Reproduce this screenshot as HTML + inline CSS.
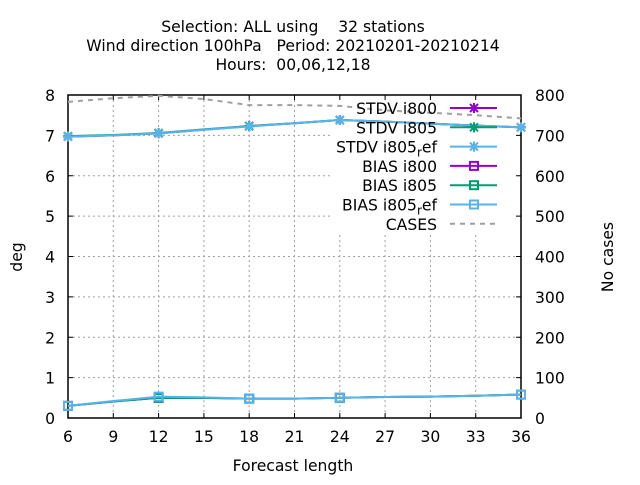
<!DOCTYPE html>
<html><head><meta charset="utf-8"><style>
body{margin:0;background:#fff}
svg{font-family:"DejaVu Sans","Liberation Sans",sans-serif}
</style></head><body>
<svg id="c" width="640" height="480">
<g font-size="15.6" text-anchor="middle">
<text x="293" y="32" xml:space="preserve">Selection: ALL using    32 stations</text>
<text x="293" y="51" xml:space="preserve">Wind direction 100hPa   Period: 20210201-20210214</text>
<text x="293" y="70" xml:space="preserve">Hours:  00,06,12,18</text>
</g>
<g id="grid"></g><g id="legbg"></g><g id="axes"></g><g id="series"></g><g id="legend"></g>
<text x="22" y="257" font-size="15.6" text-anchor="middle" transform="rotate(-90 22 257)">deg</text>
<text x="613" y="257" font-size="15.6" text-anchor="middle" transform="rotate(-90 613 257)">No cases</text>
<text x="293" y="471" font-size="15.6" text-anchor="middle">Forecast length</text>
</svg>
<script>
const hours=[6,9,12,15,18,21,24,27,30,33,36];
const stdvI800=[6.97,7.0,7.05,7.14,7.23,7.30,7.38,7.34,7.29,7.24,7.2];
const stdvI805=[6.98,7.01,7.06,7.15,7.23,7.30,7.38,7.34,7.29,7.24,7.2];
const stdvI805ref=[6.97,7.0,7.05,7.14,7.22,7.30,7.38,7.34,7.29,7.24,7.2];
const biasI800=[0.3,0.41,0.5,0.5,0.48,0.48,0.5,0.52,0.53,0.55,0.58];
const biasI805=[0.3,0.41,0.5,0.5,0.48,0.48,0.5,0.52,0.53,0.55,0.58];
const biasI805ref=[0.3,0.42,0.53,0.51,0.48,0.48,0.5,0.52,0.53,0.55,0.58];
const cases=[783,792,798,790,775,775,773,762,756,750,742];
const markerHours=[6,12,18,24,36];
const xTicks=[6,9,12,15,18,21,24,27,30,33,36];
const yTicks=[0,1,2,3,4,5,6,7,8];
const y2Ticks=[0,100,200,300,400,500,600,700,800];
const L=68,R=521,T=95,B=418;
const FS=15.6;
const X=h=>L+(h-6)/30*(R-L);
const Y=v=>B-v/8*(B-T);
const Y2=v=>B-v/800*(B-T);
const NS="http://www.w3.org/2000/svg";
function mk(p,t,a){const e=document.createElementNS(NS,t);for(const k in a)e.setAttribute(k,a[k]);p.appendChild(e);return e;}
const g=document.getElementById('grid'),ax=document.getElementById('axes'),s=document.getElementById('series'),lg=document.getElementById('legend'),lb=document.getElementById('legbg');
xTicks.forEach(t=>{const x=X(t);
let l=mk(g,'line',{x1:x,x2:x,y1:T,y2:B,stroke:'#a0a0a0','stroke-dasharray':'2,3'});

mk(ax,'line',{x1:x,x2:x,y1:B,y2:B-5,stroke:'#000'});mk(ax,'line',{x1:x,x2:x,y1:T,y2:T+5,stroke:'#000'});
let tx=mk(ax,'text',{x:x,y:B+24,'font-size':FS,'text-anchor':'middle'});tx.textContent=t;
});
yTicks.forEach(t=>{const y=Y(t);
let l=mk(g,'line',{x1:L,x2:R,y1:y,y2:y,stroke:'#a0a0a0','stroke-dasharray':'2,3'});

mk(ax,'line',{x1:L,x2:L+5,y1:y,y2:y,stroke:'#000'});
let tx=mk(ax,'text',{x:L-13,y:y+6,'font-size':FS,'text-anchor':'end'});tx.textContent=t;
});
y2Ticks.forEach(t=>{const y=Y2(t);
mk(ax,'line',{x1:R,x2:R-5,y1:y,y2:y,stroke:'#000'});
let tx=mk(ax,'text',{x:R+14,y:y+6,'font-size':FS,'text-anchor':'start'});tx.textContent=t;
});
mk(lb,'rect',{x:333,y:97,width:186,height:135,fill:'#fff'});
let fr=mk(ax,'rect',{x:L,y:T,width:R-L,height:B-T,fill:'none',stroke:'#000','stroke-width':1.5});

function star(p,x,y,c){mk(p,'path',{d:`M${x-4},${y-4}L${x+4},${y+4}M${x-4},${y+4}L${x+4},${y-4}M${x-5},${y}L${x+5},${y}M${x},${y-5}L${x},${y+5}`,stroke:c,'stroke-width':2});}
function sq(p,x,y,c){mk(p,'rect',{x:x-4,y:y-4,width:8,height:8,fill:'none',stroke:c,'stroke-width':2});}
const ser=[['stdv-i800',stdvI800,'#9400d3',star],['stdv-i805',stdvI805,'#009e73',star],['stdv-i805-ref',stdvI805ref,'#56b4e9',star],
['bias-i800',biasI800,'#9400d3',sq],['bias-i805',biasI805,'#009e73',sq],['bias-i805-ref',biasI805ref,'#56b4e9',sq]];
let cl=mk(s,'polyline',{points:cases.map((v,i)=>X(hours[i])+','+Y2(v)).join(' '),fill:'none',stroke:'#a0a0a0','stroke-width':2,'stroke-dasharray':'5,5'});

ser.forEach(([n,d,c,m])=>{const gg=mk(s,'g',{});
mk(gg,'polyline',{points:d.map((v,i)=>X(hours[i])+','+Y(v)).join(' '),fill:'none',stroke:c,'stroke-width':2});
hours.forEach((h,i)=>{if(markerHours.includes(h))m(gg,X(h),Y(d[i]),c);});});
const items=[['STDV i800','#9400d3',star,0],['STDV i805','#009e73',star,0],['STDV i805<tspan font-size="12" dy="4">r</tspan><tspan dy="-4">ef</tspan>','#56b4e9',star,0],
['BIAS i800','#9400d3',sq,0],['BIAS i805','#009e73',sq,0],['BIAS i805<tspan font-size="12" dy="4">r</tspan><tspan dy="-4">ef</tspan>','#56b4e9',sq,0],['CASES','#a0a0a0',null,1]];
items.forEach(([t,c,m,d],i)=>{const y=108+i*19.3;const gg=mk(lg,'g',{});

const tx=mk(gg,'text',{x:437,y:y+6,'font-size':FS,'text-anchor':'end'});tx.innerHTML=t;
const a={x1:450,x2:497,y1:y,y2:y,stroke:c,'stroke-width':2};if(d)a['stroke-dasharray']='5,5';mk(gg,'line',a);
if(m)m(gg,474,y,c);});
</script>
</body></html>
